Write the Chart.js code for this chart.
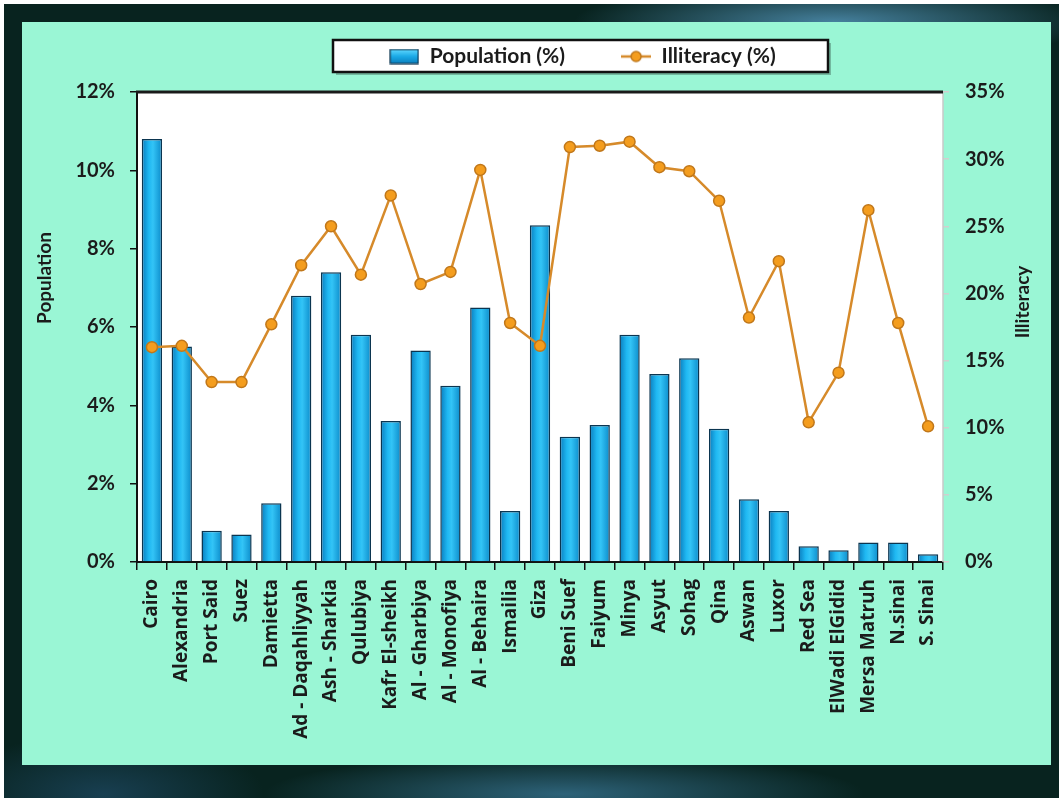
<!DOCTYPE html>
<html>
<head>
<meta charset="utf-8">
<script src="https://cdn.jsdelivr.net/npm/chart.js@4.4.1/dist/chart.umd.min.js"></script>
<style>
  html, body { margin: 0; padding: 0; background: #ffffff; }
  body { width: 1059px; height: 798px; position: relative; overflow: hidden; }
  #frame {
    position: absolute; left: 4px; top: 4px; right: 0; bottom: 0;
    background:
      radial-gradient(ellipse 260px 40px at 830px 18px, rgba(90,160,200,0.75), rgba(90,160,200,0) 100%),
      radial-gradient(ellipse 300px 40px at 560px 790px, rgba(70,140,180,0.6), rgba(70,140,180,0) 100%),
      radial-gradient(ellipse 160px 60px at 100px 790px, rgba(40,90,130,0.5), rgba(40,90,130,0) 100%),
      #08231f;
  }
  #panel {
    position: absolute; left: 22px; top: 22px; width: 1029px; height: 743px;
    background: #9af6d5;
  }
  canvas { display: block; }
</style>
</head>
<body>
<div id="frame"></div>
<div id="panel"><canvas id="chart" width="1029" height="743"></canvas></div>
<script>
// governorates of Egypt
const governorates = [
  'Cairo', 'Alexandria', 'Port Said', 'Suez', 'Damietta', 'Ad - Daqahliyyah',
  'Ash - Sharkia', 'Qulubiya', 'Kafr El-sheikh', 'Al - Gharbiya', 'Al - Monofiya',
  'Al - Behaira', 'Ismailia', 'Giza', 'Beni Suef', 'Faiyum', 'Minya', 'Asyut',
  'Sohag', 'Qina', 'Aswan', 'Luxor', 'Red Sea', 'ElWadi ElGidid', 'Mersa Matruh',
  'N.sinai', 'S. Sinai'
];
// share of the population, left axis
const populationPct = [
  10.8, 5.5, 0.8, 0.7, 1.5, 6.8,
  7.4, 5.8, 3.6, 5.4, 4.5,
  6.5, 1.3, 8.6, 3.2, 3.5, 5.8, 4.8,
  5.2, 3.4, 1.6, 1.3, 0.4, 0.3, 0.5,
  0.5, 0.2
];
// illiteracy rate, right axis
const illiteracyPct = [
  16.0, 16.1, 13.4, 13.4, 17.7, 22.1,
  25.0, 21.4, 27.3, 20.7, 21.6,
  29.2, 17.8, 16.1, 30.9, 31.0, 31.3, 29.4,
  29.1, 26.9, 18.2, 22.4, 10.4, 14.1, 26.2,
  17.8, 10.1
];
const popAxis = { min: 0, max: 12, step: 2 };
const illAxis = { min: 0, max: 35, step: 5 };

const FONT = 'Lato, "Open Sans", sans-serif';
const CAT_FONT = '"Open Sans", Lato, sans-serif';
const TEXT = '#1b1b1b';

// little icons for the legend
function legendIcon(kind) {
  const c = document.createElement('canvas');
  c.width = 30; c.height = 16;
  const g = c.getContext('2d');
  if (kind === 'bar') {
    const gr = g.createLinearGradient(0, 1, 0, 15);
    gr.addColorStop(0, '#5fd8ff');
    gr.addColorStop(0.5, '#1aa9e6');
    gr.addColorStop(1, '#0a7fbf');
    g.fillStyle = gr;
    g.fillRect(1, 1, 28, 14);
    g.strokeStyle = '#0b3550';
    g.lineWidth = 1.2;
    g.strokeRect(1, 1, 28, 14);
  } else {
    g.strokeStyle = '#d68a2a';
    g.lineWidth = 2.5;
    g.beginPath(); g.moveTo(0, 8); g.lineTo(30, 8); g.stroke();
    g.fillStyle = '#f49d1e';
    g.strokeStyle = '#c0771a';
    g.lineWidth = 1.5;
    g.beginPath(); g.arc(15, 8, 5, 0, Math.PI * 2); g.fill(); g.stroke();
  }
  return c;
}
const icons = [legendIcon('bar'), legendIcon('line')];

function barGradient(context) {
  const chart = context.chart;
  const xs = chart.scales.x;
  if (!chart.chartArea || !xs) return '#17a8e4';
  const cx = xs.getPixelForValue(context.dataIndex);
  const half = 10;
  const gr = chart.ctx.createLinearGradient(cx - half, 0, cx + half, 0);
  gr.addColorStop(0, '#0a7cbd');
  gr.addColorStop(0.35, '#1fb8f2');
  gr.addColorStop(0.55, '#33c4f6');
  gr.addColorStop(1, '#0c8ccb');
  return gr;
}

const framePlugin = {
  id: 'framePlugin',
  beforeDraw(chart) {
    const { ctx, chartArea: a } = chart;
    ctx.save();
    // plot background
    ctx.fillStyle = '#ffffff';
    ctx.fillRect(a.left, a.top, a.right - a.left, a.bottom - a.top);
    // legend box
    ctx.fillStyle = 'rgba(0,0,0,0.25)';
    ctx.fillRect(314, 21, 495, 32);
    ctx.fillStyle = '#ffffff';
    ctx.fillRect(311, 18, 495, 32);
    ctx.strokeStyle = '#111111';
    ctx.lineWidth = 2.5;
    ctx.strokeRect(311, 18, 495, 32);
    ctx.restore();
  },
  afterLayout(chart) {
    // move legend items into the box (only the top, so nothing gets clipped)
    chart.legend.left += 46;
    chart.legend.right += 46;
    chart.legend.top -= 32;
  },
  afterDraw(chart) {
    const { ctx, chartArea: a } = chart;
    ctx.save();
    // top and right edge of the plot
    ctx.strokeStyle = '#c8c8c8';
    ctx.lineWidth = 1.5;
    ctx.beginPath(); ctx.moveTo(a.right, a.top); ctx.lineTo(a.right, a.bottom); ctx.stroke();
    ctx.strokeStyle = '#1a1a1a';
    ctx.lineWidth = 3;
    ctx.beginPath(); ctx.moveTo(a.left - 1, a.top); ctx.lineTo(a.right, a.top); ctx.stroke();
    // axis titles
    ctx.fillStyle = TEXT;
    ctx.font = 'bold 19px ' + FONT;
    ctx.textAlign = 'center';
    ctx.textBaseline = 'middle';
    ctx.translate(23, 256);
    ctx.rotate(-Math.PI / 2);
    ctx.fillText('Population', 0, 0);
    ctx.rotate(Math.PI / 2);
    ctx.translate(-23, -256);
    ctx.translate(1001, 280);
    ctx.rotate(-Math.PI / 2);
    ctx.fillText('Illiteracy', 0, 0);
    ctx.restore();
  }
};

const ctx = document.getElementById('chart');
new Chart(ctx, {
  data: {
    labels: governorates,
    datasets: [
      {
        type: 'bar',
        label: 'Population (%)',
        data: populationPct,
        yAxisID: 'y',
        order: 1,
        backgroundColor: barGradient,
        borderColor: '#0b3550',
        borderWidth: 1.5,
        barPercentage: 0.68,
        categoryPercentage: 1
      },
      {
        type: 'line',
        label: 'Illiteracy (%)',
        data: illiteracyPct,
        yAxisID: 'y1',
        order: 0,
        borderColor: '#d68a2a',
        borderWidth: 2.5,
        pointRadius: 5.5,
        pointBackgroundColor: '#f49d1e',
        pointBorderColor: '#c0771a',
        pointBorderWidth: 1.5,
        tension: 0
      }
    ]
  },
  options: {
    responsive: false,
    animation: false,
    layout: { padding: 0 },
    plugins: {
      tooltip: { enabled: false },
      legend: {
        position: 'top',
        maxHeight: 70,
        labels: {
          usePointStyle: true,
          pointStyleWidth: 30,
          padding: 56,
          color: TEXT,
          font: { family: FONT, size: 21, weight: 'bold' },
          sort: (a, b) => a.datasetIndex - b.datasetIndex,
          generateLabels(chart) {
            const items = Chart.defaults.plugins.legend.labels.generateLabels(chart);
            items.forEach(it => { it.pointStyle = icons[it.datasetIndex]; });
            return items;
          }
        }
      }
    },
    scales: {
      x: {
        type: 'category',
        grid: { offset: true, drawOnChartArea: false, drawTicks: true, tickLength: 8, color: '#111', lineWidth: 1.5 },
        border: { display: true, color: '#111', width: 2 },
        ticks: {
          autoSkip: false, minRotation: 90, maxRotation: 90, padding: 9,
          color: TEXT, font: { family: CAT_FONT, size: 19, weight: 'bold' }
        },
        afterFit(scale) { scale.height = 203; }
      },
      y: {
        position: 'left',
        min: popAxis.min, max: popAxis.max,
        grid: { drawOnChartArea: false, drawTicks: true, tickLength: 7, color: '#111', lineWidth: 1.5 },
        border: { display: true, color: '#111', width: 2 },
        ticks: {
          stepSize: popAxis.step, padding: 15,
          color: TEXT, font: { family: FONT, size: 20, weight: 'bold' },
          callback: v => v + '%'
        },
        afterFit(scale) { scale.width = 115; }
      },
      y1: {
        position: 'right',
        min: illAxis.min, max: illAxis.max,
        grid: { drawOnChartArea: false, drawTicks: true, tickLength: 6, color: '#cfcfcf', lineWidth: 1.5 },
        border: { display: false },
        ticks: {
          stepSize: illAxis.step, padding: 16,
          color: TEXT, font: { family: FONT, size: 20, weight: 'bold' },
          callback: v => v + '%'
        },
        afterFit(scale) { scale.width = 108; }
      }
    }
  },
  plugins: [framePlugin]
});
</script>
</body>
</html>
